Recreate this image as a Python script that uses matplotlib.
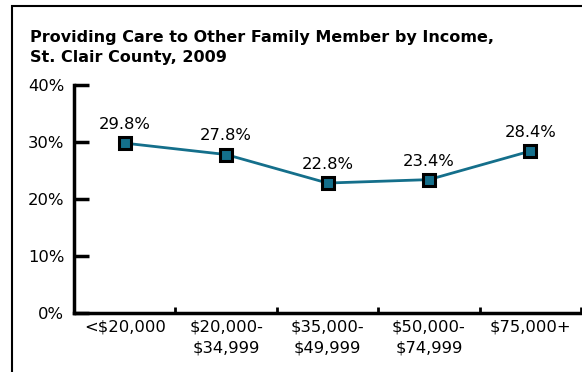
import matplotlib.pyplot as plt
from matplotlib.patches import Rectangle

# Income groups and share providing care to another family member
categories = ['<$20,000', '$20,000-\n$34,999', '$35,000-\n$49,999', '$50,000-\n$74,999', '$75,000+']
values = [29.8, 27.8, 22.8, 23.4, 28.4]
y_ticks = [0, 10, 20, 30, 40]

plt.rcParams['font.family'] = ['DejaVu Sans']
fig = plt.figure(figsize=(5.82, 3.72), dpi=100)

# outer frame (runs off the right and bottom edges)
fig.patches.append(Rectangle((12 / 582, -0.05), 1.0, 1 - 6 / 372 + 0.05,
                             transform=fig.transFigure, fill=False,
                             edgecolor='black', linewidth=1.5))

ax = fig.add_axes([74 / 582, 1 - 313 / 372, (581 - 74) / 582, (313 - 85) / 372])

x = list(range(len(categories)))
ax.plot(x, values, color='#146f8b', linewidth=2, marker='s', markersize=8,
        markerfacecolor='#146f8b', markeredgecolor='black', markeredgewidth=2.2,
        zorder=3, clip_on=False)

for xi, v in zip(x, values):
    ax.annotate(f'{v}%', (xi, v), xytext=(0, 8), textcoords='offset points',
                ha='center', va='bottom', fontsize=11.8)

ax.set_xlim(-0.5, len(categories) - 0.5)
ax.set_ylim(0, 40)

ax.set_yticks(y_ticks)
ax.set_yticklabels([f'{t}%' for t in y_ticks], fontsize=11.8)
ax.tick_params(axis='y', direction='in', length=11, width=2.5, pad=7)

# category labels at centers, tick marks at boundaries
ax.set_xticks(x)
ax.set_xticklabels(categories, fontsize=11.8, linespacing=1.45)
ax.tick_params(axis='x', which='major', length=0, pad=5)
ax.set_xticks([i + 0.5 for i in x], minor=True)
ax.tick_params(axis='x', which='minor', direction='in', length=4, width=2)

for side in ['top', 'right']:
    ax.spines[side].set_visible(False)
for side in ['left', 'bottom']:
    ax.spines[side].set_linewidth(2.5)

fig.text(30 / 582, 1 - 30 / 372,
         'Providing Care to Other Family Member by Income,\nSt. Clair County, 2009',
         fontsize=11.5, fontweight='bold', ha='left', va='top', linespacing=1.4)

fig.savefig('out.png', dpi=100)
